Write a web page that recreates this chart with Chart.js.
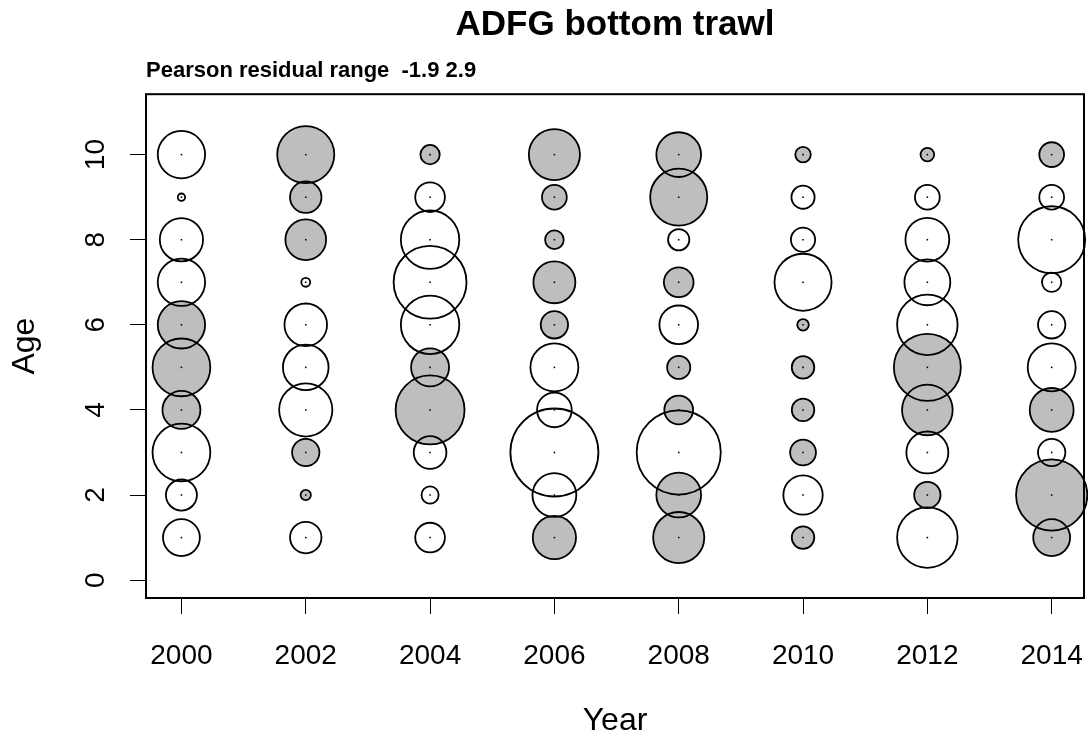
<!DOCTYPE html>
<html><head><meta charset="utf-8">
<script src="https://cdn.jsdelivr.net/npm/chart.js@4"></script>
<style>html,body{margin:0;padding:0;background:#fff;} canvas{display:block;}</style>
</head><body>
<canvas id="c" width="1088" height="740"></canvas>
<script>
// ---- data (Pearson residuals by year, ages 1..10) ----
const years = [2000, 2002, 2004, 2006, 2008, 2010, 2012, 2014];
const ages = [1, 2, 3, 4, 5, 6, 7, 8, 9, 10];
const res2000 = [0.51, 0.36, 1.25, -0.54, -1.25, -0.84, 0.84, 0.70, 0.02, 0.84];
const res2002 = [0.37, -0.04, -0.28, 1.06, 0.78, 0.68, 0.03, -0.62, -0.37, -1.22];
const res2004 = [0.33, 0.11, 0.40, -1.78, -0.54, 1.28, 1.99, 1.28, 0.33, -0.14];
const res2006 = [-0.70, 0.72, 2.90, 0.45, 0.86, -0.28, -0.66, -0.13, -0.23, -0.98];
const res2008 = [-0.98, -0.75, 2.65, -0.31, -0.20, 0.56, -0.33, 0.17, -1.22, -0.75];
const res2010 = [-0.19, 0.58, -0.25, -0.19, -0.19, -0.05, 1.22, 0.22, 0.20, -0.09];
const res2012 = [1.37, -0.26, 0.66, -0.96, -1.68, 1.37, 0.79, 0.72, 0.23, -0.07];
const res2014 = [-0.51, -1.90, 0.28, -0.72, 0.86, 0.28, 0.14, 1.68, 0.23, -0.23];
const xTickLabels = [2000, 2002, 2004, 2006, 2008, 2010, 2012, 2014];
const yTickLabels = [0, 2, 4, 6, 8, 10];
const titleText = 'ADFG bottom trawl';
const xTitle = 'Year';
const yTitle = 'Age';

const residuals = [res2000, res2002, res2004, res2006, res2008, res2010, res2012, res2014];

// ---- build points ----
const allVals = residuals.flat();
const minRes = Math.min(...allVals);
const maxRes = Math.max(...allVals);
const maxAbs = Math.max(Math.abs(minRes), Math.abs(maxRes));
const RMAX = 44; // pixel radius of the largest |residual| (area proportional)
const pts = [];
years.forEach((yr, i) => ages.forEach((a, j) => {
  const z = residuals[i][j];
  pts.push({ x: yr, y: a, z: z, r: RMAX * Math.sqrt(Math.abs(z) / maxAbs) });
}));
const negPts = pts.filter(p => p.z < 0);
const dotPts = pts.map(p => ({ x: p.x, y: p.y, r: 1.1 }));

const subtitleText = 'Pearson residual range  ' + minRes.toFixed(1) + ' ' + maxRes.toFixed(1);
const FONT = '"Liberation Sans", Arial, sans-serif';

const boxPlugin = {
  id: 'box',
  afterDraw(chart) {
    const { ctx, chartArea: a } = chart;
    ctx.save();
    ctx.strokeStyle = '#000';
    ctx.lineWidth = 2;
    ctx.strokeRect(a.left, a.top, a.right - a.left, a.bottom - a.top);
    ctx.restore();
  }
};

new Chart(document.getElementById('c'), {
  type: 'bubble',
  data: {
    datasets: [
      { label: 'centres', data: dotPts, backgroundColor: '#000', borderWidth: 0, pointStyle: 'rect', clip: false },
      { label: 'outline', data: pts, backgroundColor: 'rgba(0,0,0,0)', borderColor: '#000', borderWidth: 1.8, clip: false },
      { label: 'negative', data: negPts, backgroundColor: '#bebebe', borderWidth: 0, clip: false }
    ]
  },
  options: {
    responsive: false,
    devicePixelRatio: 1,
    animation: false,
    events: [],
    layout: { autoPadding: false, padding: { left: 0, right: 4, top: 0, bottom: 0 } },
    plugins: {
      legend: { display: false },
      tooltip: { enabled: false },
      title: {
        display: true, text: titleText, fullSize: false, align: 'center', color: '#000',
        font: { family: FONT, size: 35, weight: 'bold', lineHeight: 1.2 },
        padding: { top: 4, bottom: 0 }
      },
      subtitle: {
        display: true, text: subtitleText, fullSize: false, align: 'start', color: '#000',
        font: { family: FONT, size: 22, weight: 'bold', lineHeight: 1.2 },
        padding: { top: 12, bottom: 9.8 }
      }
    },
    scales: {
      x: {
        type: 'linear', min: 1999.43, max: 2014.52,
        afterBuildTicks: s => { s.ticks = xTickLabels.map(v => ({ value: v })); },
        afterFit: s => { s.height = 142; s.paddingLeft = 0; s.paddingRight = 0; },
        border: { display: false },
        grid: { drawOnChartArea: false, drawTicks: true, tickLength: 16, color: '#000', lineWidth: 1 },
        ticks: { color: '#000', padding: 25, maxRotation: 0, autoSkip: false,
          font: { family: FONT, size: 28 }, callback: v => String(v) },
        title: { display: true, text: xTitle, color: '#000',
          font: { family: FONT, size: 32, lineHeight: 1.2 }, padding: { top: 0, bottom: 0 } }
      },
      y: {
        type: 'linear', min: -0.42, max: 11.42,
        afterBuildTicks: s => { s.ticks = yTickLabels.map(v => ({ value: v })); },
        afterFit: s => { s.width = 146; s.paddingTop = 0; s.paddingBottom = 0; },
        border: { display: false },
        grid: { drawOnChartArea: false, drawTicks: true, tickLength: 16, color: '#000', lineWidth: 1 },
        ticks: { color: '#000', padding: 18, minRotation: 90, maxRotation: 90, crossAlign: 'center', autoSkip: false,
          font: { family: FONT, size: 28 }, callback: v => String(v) },
        title: { display: true, text: yTitle, color: '#000',
          font: { family: FONT, size: 32, lineHeight: 1.2 }, padding: { top: 6, bottom: 0 } }
      }
    }
  },
  plugins: [boxPlugin]
});
</script>
</body></html>
